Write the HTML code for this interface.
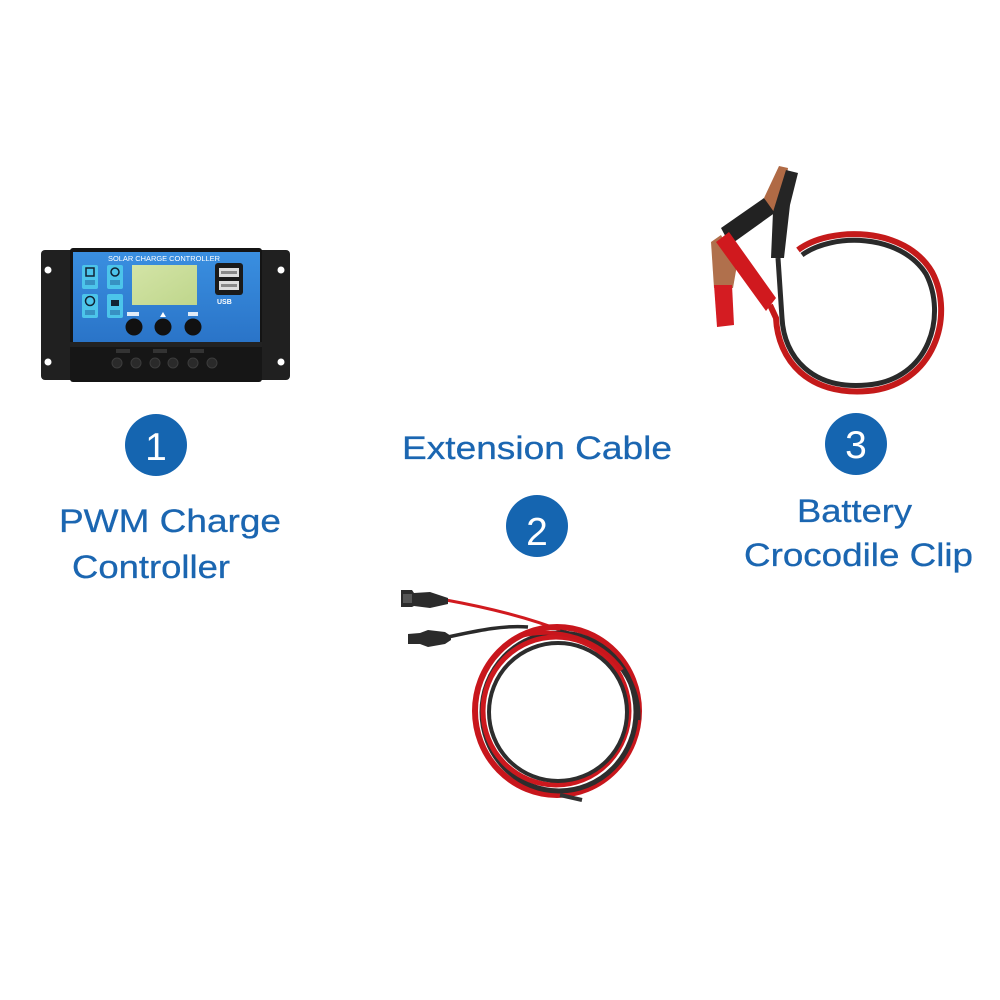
<!DOCTYPE html>
<html><head><meta charset="utf-8"><style>
html,body{margin:0;padding:0;background:#fff;}
svg{display:block;}
text{font-family:"Liberation Sans",Arial,sans-serif;}
</style></head><body>
<svg width="1000" height="1000" viewBox="0 0 1000 1000" xmlns="http://www.w3.org/2000/svg">
<defs>
<linearGradient id="blue" x1="0" y1="0" x2="0" y2="1">
<stop offset="0" stop-color="#3a8fe0"/><stop offset="1" stop-color="#2a74c8"/>
</linearGradient>
<linearGradient id="lcd" x1="0" y1="0" x2="1" y2="1">
<stop offset="0" stop-color="#d3e4a6"/><stop offset="1" stop-color="#bfd68c"/>
</linearGradient>
</defs>
<rect width="1000" height="1000" fill="#fff"/>

<!-- ===== Controller ===== -->
<rect x="41" y="250" width="249" height="130" rx="4" fill="#202020"/>
<rect x="70" y="248" width="192" height="134" rx="3" fill="#141414"/>
<circle cx="48" cy="270" r="3.5" fill="#fff"/>
<circle cx="48" cy="362" r="3.5" fill="#fff"/>
<circle cx="281" cy="270" r="3.5" fill="#fff"/>
<circle cx="281" cy="362" r="3.5" fill="#fff"/>
<rect x="73" y="252" width="187" height="90" fill="url(#blue)"/>
<text x="108" y="261" font-size="7" fill="#fff" textLength="112" lengthAdjust="spacingAndGlyphs">SOLAR CHARGE CONTROLLER</text>
<rect x="132" y="265" width="65" height="40" fill="url(#lcd)"/>
<rect x="82" y="265" width="16" height="24" rx="2" fill="#4cc4ea"/>
<rect x="107" y="265" width="16" height="24" rx="2" fill="#4cc4ea"/>
<rect x="82" y="294" width="16" height="24" rx="2" fill="#4cc4ea"/>
<rect x="107" y="294" width="16" height="24" rx="2" fill="#4cc4ea"/>
<rect x="86" y="268" width="8" height="8" fill="none" stroke="#123" stroke-width="1.5"/>
<circle cx="115" cy="272" r="4" fill="none" stroke="#123" stroke-width="1.5"/>
<circle cx="90" cy="301" r="4.5" fill="none" stroke="#123" stroke-width="1.5"/>
<rect x="111" y="300" width="8" height="6" fill="#123"/>
<rect x="85" y="280" width="10" height="5" fill="#2a6fa8" opacity="0.6"/>
<rect x="110" y="280" width="10" height="5" fill="#2a6fa8" opacity="0.6"/>
<rect x="85" y="310" width="10" height="5" fill="#2a6fa8" opacity="0.6"/>
<rect x="110" y="310" width="10" height="5" fill="#2a6fa8" opacity="0.6"/>
<rect x="215" y="263" width="28" height="32" rx="3" fill="#1a1a1a"/>
<rect x="219" y="268" width="20" height="9" fill="#ddd"/>
<rect x="219" y="281" width="20" height="9" fill="#ddd"/>
<rect x="221" y="271" width="16" height="3" fill="#888"/>
<rect x="221" y="284" width="16" height="3" fill="#888"/>
<text x="217" y="304" font-size="7" fill="#fff" font-weight="bold">USB</text>
<rect x="127" y="312" width="12" height="4" fill="#fff" opacity="0.85"/>
<path d="M160 317 L163 312 L166 317 Z" fill="#fff"/>
<rect x="188" y="312" width="10" height="4" fill="#fff" opacity="0.85"/>
<circle cx="134" cy="327" r="8.5" fill="#111"/>
<circle cx="163" cy="327" r="8.5" fill="#111"/>
<circle cx="193" cy="327" r="8.5" fill="#111"/>
<rect x="70" y="342" width="192" height="38" fill="#161616"/>
<rect x="70" y="342" width="192" height="5" fill="#222"/>
<g fill="#2a2a2a" stroke="#3c3c3c" stroke-width="1">
<circle cx="117" cy="363" r="5"/><circle cx="136" cy="363" r="5"/>
<circle cx="155" cy="363" r="5"/><circle cx="173" cy="363" r="5"/>
<circle cx="193" cy="363" r="5"/><circle cx="212" cy="363" r="5"/>
</g>
<g fill="#333"><rect x="116" y="349" width="14" height="4"/><rect x="153" y="349" width="14" height="4"/><rect x="190" y="349" width="14" height="4"/></g>

<!-- ===== Crocodile clips ===== -->
<path d="M798 250 C 830 226, 905 226, 932 272 C 955 315, 935 385, 868 391 C 808 396, 778 360, 776 318 L 770 305" fill="none" stroke="#c41a1a" stroke-width="6"/>
<path d="M802 255 C 832 233, 900 233, 926 274 C 947 315, 930 380, 867 385 C 812 390, 784 357, 782 318 L 778 258" fill="none" stroke="#2a2a2a" stroke-width="5"/>
<!-- black clip -->
<polygon points="721,228 764,198 776,212 730,245" fill="#222"/>
<polygon points="764,198 779,166 788,168 783,200 774,212" fill="#b06a45"/>
<polygon points="786,170 798,173 790,205 784,258 771,258 773,212" fill="#252525"/>
<!-- red clip -->
<polygon points="711,242 721,235 737,265 733,288 714,288" fill="#b0704c"/>
<polygon points="716,242 729,232 776,298 766,311" fill="#d0191e"/>
<polygon points="714,285 732,285 734,325 717,327" fill="#d41c22"/>

<!-- ===== Extension cable ===== -->
<path d="M446 600 C 490 608, 530 618, 565 632" fill="none" stroke="#d11a1f" stroke-width="3"/>
<path d="M448 637 C 480 630, 505 625, 528 627" fill="none" stroke="#2a2a2a" stroke-width="3.5"/>
<g fill="none">
<ellipse cx="557" cy="711" rx="82" ry="84" stroke="#c8161c" stroke-width="6"/>
<ellipse cx="559" cy="712" rx="77" ry="79" stroke="#2d2d2d" stroke-width="5"/>
<ellipse cx="556" cy="711" rx="73" ry="74" stroke="#cc181e" stroke-width="5"/>
<ellipse cx="558" cy="712" rx="69" ry="69" stroke="#2d2d2d" stroke-width="4"/>
<path d="M560 632 C 610 640, 640 680, 638 720" stroke="#2d2d2d" stroke-width="5"/>
<path d="M520 636 C 560 626, 600 640, 622 670" stroke="#c8161c" stroke-width="4"/>
</g>
<path d="M560 795 L 582 800" stroke="#333" stroke-width="4"/>
<!-- connectors -->
<path d="M401 590 L412 590 L414 593 L430 592 L448 598 L448 604 L430 608 L414 606 L412 607 L401 607 Z" fill="#2b2b2b"/>
<rect x="403" y="594" width="9" height="9" fill="#555"/>
<path d="M408 634 L420 633 L428 630 L445 632 L451 636 L451 640 L445 644 L428 647 L420 644 L408 644 Z" fill="#2b2b2b"/>

<!-- ===== Number circles ===== -->
<circle cx="156" cy="445" r="31" fill="#1565b0"/>
<text x="156" y="460" font-size="39" fill="#fff" text-anchor="middle">1</text>
<circle cx="537" cy="526" r="31" fill="#1565b0"/>
<text x="537" y="545" font-size="39" fill="#fff" text-anchor="middle">2</text>
<circle cx="856" cy="444" r="31" fill="#1565b0"/>
<text x="856" y="458" font-size="39" fill="#fff" text-anchor="middle">3</text>

<!-- ===== Labels ===== -->
<g fill="#1b66b1" font-size="32" stroke="#1b66b1" stroke-width="0.3">
<text x="59" y="532" textLength="222" lengthAdjust="spacingAndGlyphs">PWM Charge</text>
<text x="72" y="578" textLength="158" lengthAdjust="spacingAndGlyphs">Controller</text>
<text x="402" y="459" textLength="270" lengthAdjust="spacingAndGlyphs">Extension Cable</text>
<text x="797" y="522" textLength="115" lengthAdjust="spacingAndGlyphs">Battery</text>
<text x="744" y="566" textLength="229" lengthAdjust="spacingAndGlyphs">Crocodile Clip</text>
</g>
</svg>
</body></html>
